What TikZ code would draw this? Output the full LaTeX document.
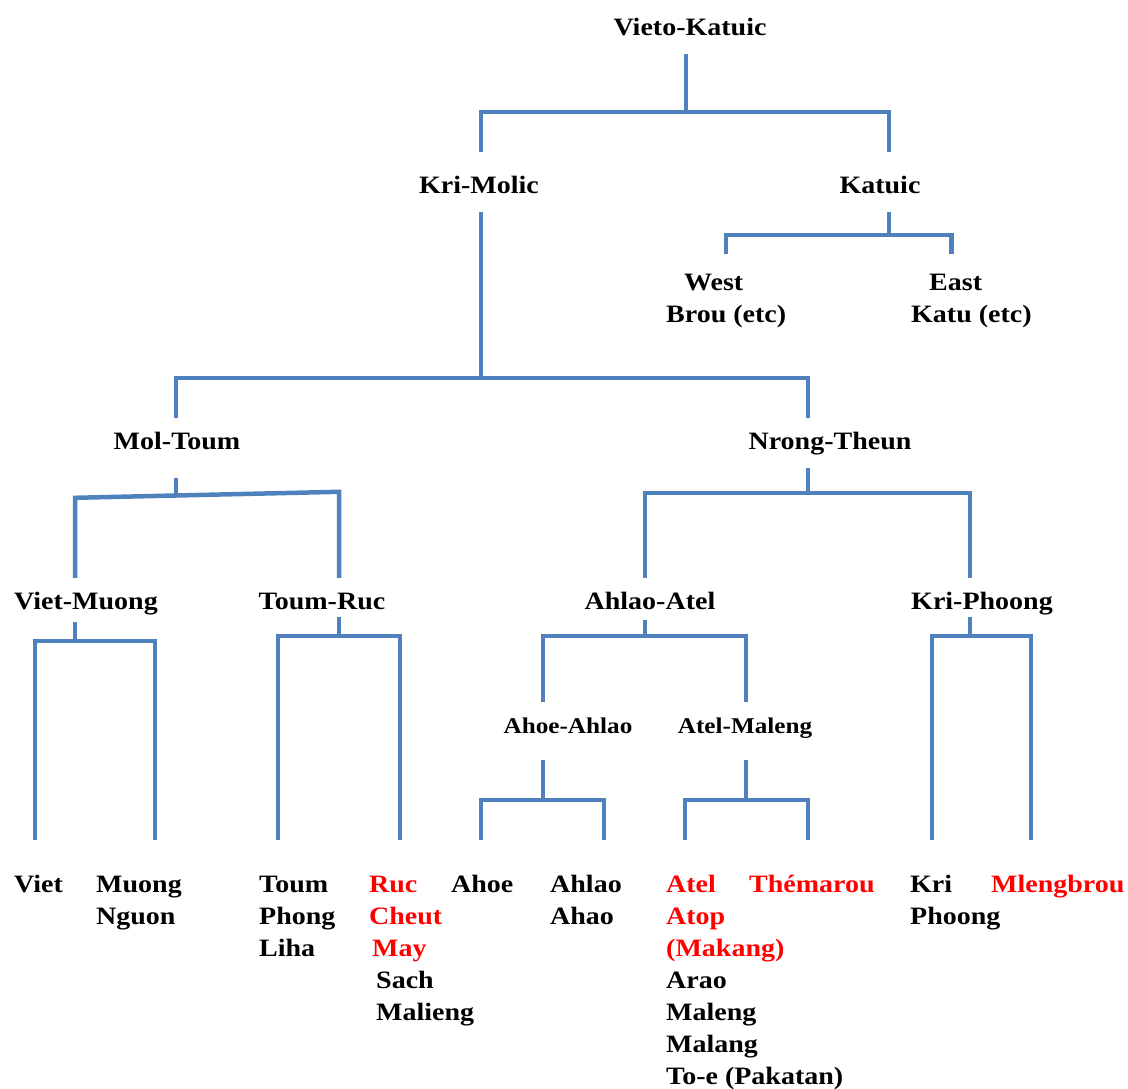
\documentclass[tikz,border=0pt]{standalone}
\usepackage{fontspec}
\setmainfont{Liberation Serif}[FakeStretch=1.12]
\definecolor{lineblue}{RGB}{79,129,189}
\newcommand\cladefont{\bfseries\fontsize{25}{32}\selectfont}
\newcommand\subfont{\bfseries\fontsize{22.5}{28}\selectfont}
\tikzset{
  branch/.style={draw=lineblue, line width=4.5pt},
  clade/.style={font=\cladefont, inner xsep=0pt, inner ysep=14pt, text height=17pt, text depth=5pt},
  subclade/.style={clade, font=\subfont},
  leaf/.style={font=\cladefont, anchor=north west, inner sep=0pt, align=left},
}
\begin{document}
\begin{tikzpicture}[x=1pt,y=-1pt]
  \useasboundingbox (0,0) rectangle (1128,1088);

  % clades
  \node[clade] (vk) at (690,29) {Vieto-Katuic};
  \node[clade] (km) at (479,187) {Kri-Molic};
  \node[clade] (kat) at (880,187) {Katuic};
  \node[clade] (mt) at (177,443) {Mol-Toum};
  \node[clade] (nt) at (830,443) {Nrong-Theun};
  \node[clade] (vm) at (86,603) {Viet-Muong};
  \node[clade] (tr) at (322,603) {Toum-Ruc};
  \node[clade] (aa) at (650,603) {Ahlao-Atel};
  \node[clade] (kp) at (982,603) {Kri-Phoong};
  \node[subclade] (ah) at (568,727) {Ahoe-Ahlao};
  \node[subclade] (am) at (745,727) {Atel-Maleng};

  % leaves
  \node[leaf] (west) at (666,268) {\strut\hspace*{18pt}West\\Brou (etc)};
  \node[leaf] (east) at (911,268) {\strut\hspace*{18pt}East\\Katu (etc)};
  \node[leaf] (viet) at (14,870) {\strut Viet};
  \node[leaf] (muong) at (96,870) {\strut Muong\\Nguon};
  \node[leaf] (toum) at (259,870) {\strut Toum\\Phong\\Liha};
  \node[leaf] (ruc) at (369,870) {\strut\textcolor{red}{Ruc}\\\textcolor{red}{Cheut}\\\hspace*{3pt}\textcolor{red}{May}\\\hspace*{7pt}Sach\\\hspace*{7pt}Malieng};
  \node[leaf] (ahoe) at (451,870) {\strut Ahoe};
  \node[leaf] (ahlao) at (550,870) {\strut Ahlao\\Ahao};
  \node[leaf] (atel) at (666,870) {\strut\textcolor{red}{Atel}\\\textcolor{red}{Atop}\\\textcolor{red}{(Makang)}\\Arao\\Maleng\\Malang\\To-e (Pakatan)};
  \node[leaf] (themarou) at (749,870) {\strut\textcolor{red}{Thémarou}};
  \node[leaf] (kri) at (910,870) {\strut Kri\\Phoong};
  \node[leaf] (mlengbrou) at (991,870) {\strut\textcolor{red}{Mlengbrou}};

  % tips of the leaf lines
  \coordinate (tip-viet) at (35,840);
  \coordinate (tip-muong) at (155,840);
  \coordinate (tip-toum) at (278,840);
  \coordinate (tip-ruc) at (400,840);
  \coordinate (tip-ahoe) at (481,840);
  \coordinate (tip-ahlao) at (604,840);
  \coordinate (tip-atel) at (685,840);
  \coordinate (tip-themarou) at (808,840);
  \coordinate (tip-kri) at (932,840);
  \coordinate (tip-mlengbrou) at (1031,840);

  % branches
  \draw[branch] ([xshift=-4pt]vk.south) -- ++(0,58) coordinate (vkbar);
  \draw[branch] ([xshift=2pt,yshift=10pt]km.north) |- (vkbar) -| ([xshift=9pt,yshift=10pt]kat.north);

  \draw[branch] ([xshift=9pt]kat.south) -- ++(0,23) coordinate (katbar);
  \draw[branch] ([yshift=14pt]west.north) |- (katbar) -| ([xshift=-20pt,yshift=14pt]east.north);

  \draw[branch] ([xshift=2pt]km.south) -- ++(0,166) coordinate (kmbar);
  \draw[branch] ([xshift=-1pt]mt.north) |- (kmbar) -| ([xshift=-22pt]nt.north);

  \draw[branch] ([xshift=-1pt,yshift=-10pt]mt.south) -- ++(0,18);
  \draw[branch] ([xshift=-11pt]vm.north) -- ++(0,-80) -- ([xshift=17pt,yshift=86pt]tr.north) -- ([xshift=17pt]tr.north);

  \draw[branch] ([xshift=-22pt]nt.south) -- ++(0,25) coordinate (ntbar);
  \draw[branch] ([xshift=-5pt]aa.north) |- (ntbar) -| ([xshift=-12pt]kp.north);

  \draw[branch] ([xshift=-11pt,yshift=6pt]vm.south) -- ++(0,19) coordinate (vmbar);
  \draw[branch] (tip-viet) |- (vmbar) -| (tip-muong);

  \draw[branch] ([xshift=17pt,yshift=11pt]tr.south) -- ++(0,19) coordinate (trbar);
  \draw[branch] (tip-toum) |- (trbar) -| (tip-ruc);

  \draw[branch] ([xshift=-5pt,yshift=8pt]aa.south) -- ++(0,16) coordinate (aabar);
  \draw[branch] ([xshift=-25pt]ah.north) |- (aabar) -| ([xshift=1pt]am.north);

  \draw[branch] ([xshift=-12pt,yshift=11pt]kp.south) -- ++(0,19) coordinate (kpbar);
  \draw[branch] (tip-kri) |- (kpbar) -| (tip-mlengbrou);

  \draw[branch] ([xshift=-25pt,yshift=-8pt]ah.south) -- ++(0,40) coordinate (ahbar);
  \draw[branch] (tip-ahoe) |- (ahbar) -| (tip-ahlao);

  \draw[branch] ([xshift=1pt,yshift=-8pt]am.south) -- ++(0,40) coordinate (ambar);
  \draw[branch] (tip-atel) |- (ambar) -| (tip-themarou);
\end{tikzpicture}
\end{document}
